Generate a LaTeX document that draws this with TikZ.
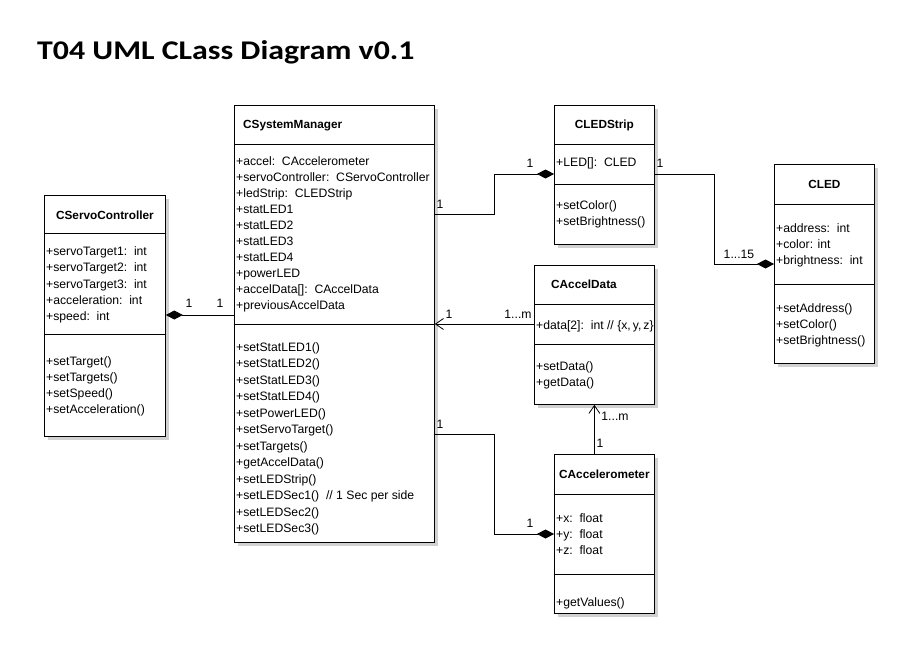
\documentclass[tikz,border=0pt]{standalone}
\usepackage{fontspec}
\setmainfont{Liberation Sans}
\newfontfamily\titlefont[FakeStretch=1.18]{Carlito}
\usetikzlibrary{positioning,arrows.meta,shadows}

\newcommand\umlfont{\fontsize{12.2}{16}\selectfont}
\newcommand\umlnamefont{\fontsize{11.8}{16}\selectfont\bfseries}

\tikzset{
  classbox/.style={draw, line width=0.8pt, fill=white, anchor=north west,
    inner sep=0pt,
    drop shadow={shadow xshift=3.5pt, shadow yshift=-3.5pt,
                 fill=black!18, opacity=1}},
  member/.style={anchor=west, inner sep=0pt, text height=8.5pt,
    text depth=2.5pt, font=\umlfont},
  classname/.style={member, font=\umlnamefont},
  mult/.style={inner sep=0pt, font=\umlfont},
  assoc/.style={line width=0.8pt},
  comp/.style={assoc, -{Diamond[length=17pt, width=9pt]}},
  nav/.style={assoc, -{Straight Barb[length=8pt, width=11pt]}},
}

\begin{document}
\begin{tikzpicture}[x=1pt, y=-1pt]
% 1 unit = 1 px of the 920x648 sheet, y grows downwards
\useasboundingbox[fill=white] (0,0) rectangle (920,648);

%% --- Title ----------------------------------------------------
\node[anchor=base west, inner sep=0pt,
      font=\titlefont\bfseries\fontsize{27}{32}\selectfont]
     (title) at (37,59) {T04 UML CLass Diagram v0.1};

%% --- Class boxes (drawn first) --------------------------------
\node[classbox, minimum width=200pt, minimum height=437pt]
     (sysmgr) at (234,105) {};
\node[classbox, minimum width=121pt, minimum height=241pt]
     (servo) at (44,195) {};
\node[classbox, minimum width=100pt, minimum height=139pt]
     (ledstrip) at (554,105) {};
\node[classbox, minimum width=100pt, minimum height=199pt]
     (cled) at (774,164) {};
\node[classbox, minimum width=120pt, minimum height=139pt]
     (acceldata) at (534,265) {};
\node[classbox, minimum width=100pt, minimum height=159pt]
     (accelmeter) at (554,454) {};

%% --- Compartment lines (offset from top edge) -----------------
\foreach \cls/\off in {sysmgr/39, sysmgr/219, servo/38, servo/139,
                       ledstrip/39, ledstrip/79, cled/40, cled/120,
                       acceldata/39, acceldata/79,
                       accelmeter/40, accelmeter/120}{
  \draw[assoc] ([yshift=-\off pt]\cls.north west)
            -- ([yshift=-\off pt]\cls.north east);
}

%% --- CSystemManager -------------------------------------------
\node[classname] (sysmgr-name) at (243,125) {CSystemManager};
\foreach \t [count=\i] in {{+accel:\ \ CAccelerometer},
    {+servoController:\ \ CServoController}, {+ledStrip:\ \ CLEDStrip},
    +statLED1, +statLED2, +statLED3, +statLED4, +powerLED,
    {+accelData[]:\ \ CAccelData}, +previousAccelData}{
  \node[member] (sysmgr-a\i) at (236, 146.7+16*\i) {\t};
}
\foreach \t [count=\i] in {+setStatLED1(), +setStatLED2(),
    +setStatLED3(), +setStatLED4(), +setPowerLED(), +setServoTarget(),
    +setTargets(), +getAccelData(), +setLEDStrip(),
    {+setLEDSec1()\ \ // 1 Sec per side}, +setLEDSec2(), +setLEDSec3()}{
  \node[member] (sysmgr-m\i) at (236, 331.8+16.5*\i) {\t};
}

%% --- CServoController -----------------------------------------
\node[classname, anchor=center] (servo-name) at (servo.north |- 0,216)
     {CServoController};
\foreach \t [count=\i] in {{+servoTarget1:\ \ int},
    {+servoTarget2:\ \ int}, {+servoTarget3:\ \ int},
    {+acceleration:\ \ int}, {+speed:\ \ int}}{
  \node[member] (servo-a\i) at (46, 236.5+16.2*\i) {\t};
}
\foreach \t [count=\i] in {+setTarget(), +setTargets(), +setSpeed(),
    +setAcceleration()}{
  \node[member] (servo-m\i) at (46, 346.9+15.8*\i) {\t};
}

%% --- CLEDStrip ------------------------------------------------
\node[classname, anchor=center] (ledstrip-name) at (ledstrip.north |- 0,125)
     {CLEDStrip};
\node[member] (ledstrip-a1) at (556,163.3) {+LED[]:\ \ CLED};
\node[member] (ledstrip-m1) at (556,206.7) {+setColor()};
\node[member] (ledstrip-m2) at (556,222) {+setBrightness()};

%% --- CLED -----------------------------------------------------
\node[classname, anchor=center] (cled-name) at (cled.north |- 0,185) {CLED};
\foreach \t [count=\i] in {{+address:\ \ int}, {+color: int},
    {+brightness:\ \ int}}{
  \node[member] (cled-a\i) at (776, 213+16*\i) {\t};
}
\foreach \t [count=\i] in {+setAddress(), +setColor(), +setBrightness()}{
  \node[member] (cled-m\i) at (776, 293+16*\i) {\t};
}

%% --- CAccelData -----------------------------------------------
\node[classname] (acceldata-name) at (551,285) {CAccelData};
\node[member] (acceldata-a1) at (536,326)
     {+data[2]:\ \ int // \{x,\,y,\,z\}};
\node[member] (acceldata-m1) at (536,367) {+setData()};
\node[member] (acceldata-m2) at (536,383) {+getData()};

%% --- CAccelerometer -------------------------------------------
\node[classname, anchor=center] (accelmeter-name) at (accelmeter.north |- 0,475)
     {CAccelerometer};
\foreach \t [count=\i] in {{+x:\ \ float}, {+y:\ \ float}, {+z:\ \ float}}{
  \node[member] (accelmeter-a\i) at (556, 503+16*\i) {\t};
}
\node[member] (accelmeter-m1) at (556,603) {+getValues()};

%% --- Relations ------------------------------------------------
\draw[comp] (sysmgr.west |- 0,315) -- (servo.east |- 0,315);
\draw[comp] (sysmgr.east |- 0,214) -- (494,214) -- (494,174)
         -- (ledstrip.west |- 0,174);
\draw[comp] (ledstrip.east |- 0,174) -- (714,174) -- (714,264)
         -- (cled.west |- 0,264);
\draw[nav]  (acceldata.west |- 0,324) -- (sysmgr.east |- 0,324);
\draw[nav]  (acceldata.south |- accelmeter.north) -- (acceldata.south);
\draw[comp] (sysmgr.east |- 0,434) -- (494,434) -- (494,534)
         -- (accelmeter.west |- 0,534);

%% --- Multiplicities -------------------------------------------
\node[mult] (m-servo)   at (189,303) {1};
\node[mult] (m-sys1)    at (220,303) {1};
\node[mult] (m-sys2)    at (440,204) {1};
\node[mult] (m-strip1)  at (530,163) {1};
\node[mult] (m-strip2)  at (660,163) {1};
\node[mult] (m-cled)    at (739,254) {1...15};
\node[mult] (m-sys3)    at (449,314) {1};
\node[mult] (m-data1)   at (518,314) {1...m};
\node[mult] (m-data2)   at (615,416) {1...m};
\node[mult] (m-meter1)  at (600,443) {1};
\node[mult] (m-sys4)    at (440,424) {1};
\node[mult] (m-meter2)  at (530,523) {1};

\end{tikzpicture}
\end{document}
